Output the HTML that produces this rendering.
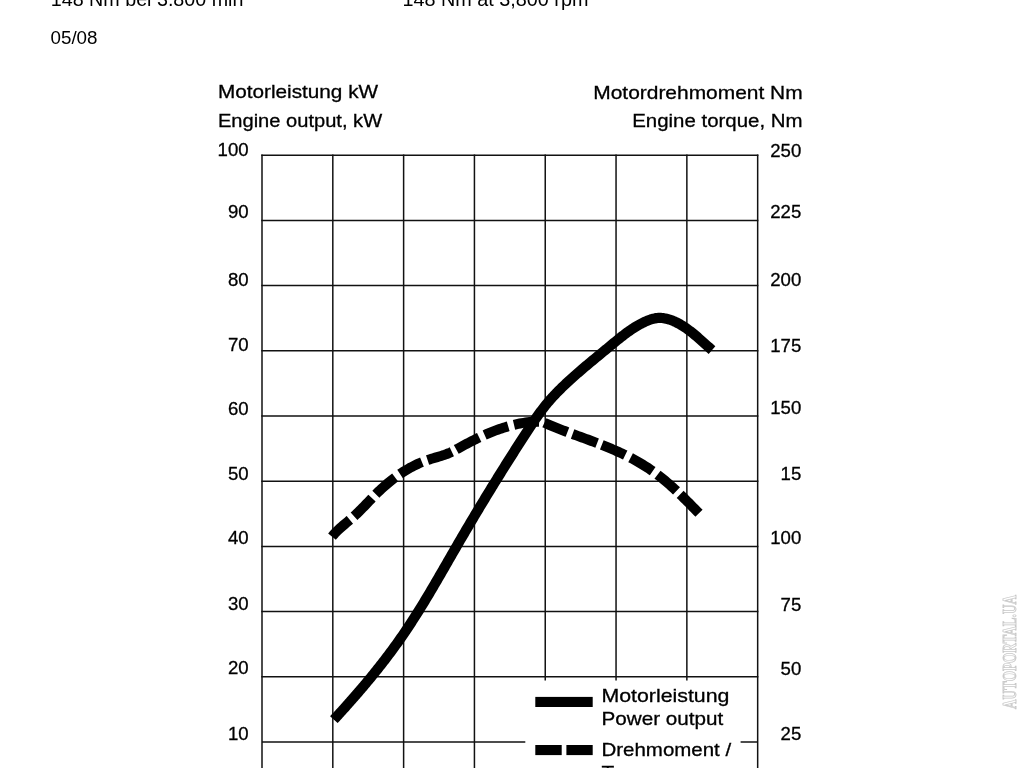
<!DOCTYPE html>
<html><head><meta charset="utf-8"><title>Engine output and torque chart</title>
<style>
html,body{margin:0;padding:0;background:#fff;}
body{width:1024px;height:768px;overflow:hidden;position:relative;}
svg{position:absolute;left:0;top:0;display:block;}
</style></head><body>
<svg width="1024" height="768" viewBox="0 0 1024 768">
<g stroke="#111" stroke-width="1.5" fill="none">
<line x1="262.00" y1="154.50" x2="262.00" y2="768"/>
<line x1="332.81" y1="154.50" x2="332.81" y2="768"/>
<line x1="403.62" y1="154.50" x2="403.62" y2="768"/>
<line x1="474.43" y1="154.50" x2="474.43" y2="768"/>
<line x1="545.24" y1="154.50" x2="545.24" y2="680.5"/>
<line x1="616.05" y1="154.50" x2="616.05" y2="680.5"/>
<line x1="686.86" y1="154.50" x2="686.86" y2="680.5"/>
<line x1="757.67" y1="154.50" x2="757.67" y2="768"/>
<line x1="261.30" y1="155.20" x2="758.37" y2="155.20"/>
<line x1="261.30" y1="220.40" x2="758.37" y2="220.40"/>
<line x1="261.30" y1="285.60" x2="758.37" y2="285.60"/>
<line x1="261.30" y1="350.80" x2="758.37" y2="350.80"/>
<line x1="261.30" y1="416.00" x2="758.37" y2="416.00"/>
<line x1="261.30" y1="481.20" x2="758.37" y2="481.20"/>
<line x1="261.30" y1="546.40" x2="758.37" y2="546.40"/>
<line x1="261.30" y1="611.60" x2="758.37" y2="611.60"/>
<line x1="261.30" y1="676.80" x2="758.37" y2="676.80"/>
<line x1="262.00" y1="742.00" x2="525.3" y2="742.00"/>
<line x1="740.6" y1="742.00" x2="757.67" y2="742.00"/>
</g>
<rect x="526" y="681" width="214" height="87" fill="#fff"/>
<path d="M333.86 719.66 L334.87 718.56 L335.89 717.45 L336.90 716.35 L337.91 715.24 L338.92 714.13 L339.93 713.03 L340.94 711.92 L341.94 710.80 L342.95 709.69 L343.95 708.58 L344.96 707.46 L345.96 706.34 L346.96 705.22 L347.96 704.10 L348.95 702.98 L349.95 701.86 L350.94 700.73 L351.93 699.61 L352.92 698.48 L353.91 697.35 L354.90 696.22 L355.88 695.08 L356.87 693.95 L357.85 692.81 L358.83 691.67 L359.81 690.53 L360.78 689.39 L361.76 688.25 L362.73 687.11 L363.70 685.96 L364.67 684.81 L365.63 683.66 L366.60 682.51 L367.56 681.35 L368.52 680.20 L369.47 679.04 L370.43 677.88 L371.38 676.72 L372.33 675.56 L373.28 674.39 L374.23 673.23 L375.17 672.06 L376.11 670.89 L377.05 669.71 L377.98 668.54 L378.92 667.36 L379.85 666.19 L380.77 665.01 L381.70 663.82 L382.62 662.64 L383.54 661.45 L384.46 660.26 L385.37 659.07 L386.28 657.88 L387.19 656.69 L388.10 655.49 L389.00 654.29 L389.90 653.09 L390.80 651.89 L391.69 650.68 L392.58 649.48 L393.47 648.27 L394.35 647.05 L395.24 645.84 L396.11 644.62 L396.99 643.41 L397.86 642.19 L398.73 640.96 L399.59 639.74 L400.45 638.51 L401.31 637.28 L402.17 636.05 L403.02 634.82 L403.87 633.58 L404.71 632.34 L405.55 631.10 L406.39 629.86 L407.22 628.61 L408.05 627.36 L408.88 626.11 L409.71 624.86 L410.53 623.61 L411.35 622.35 L412.17 621.09 L412.98 619.83 L413.79 618.57 L414.60 617.31 L415.40 616.05 L416.20 614.78 L417.01 613.51 L417.80 612.24 L418.60 610.97 L419.39 609.70 L420.18 608.42 L420.97 607.15 L421.76 605.87 L422.54 604.59 L423.32 603.31 L424.10 602.03 L424.88 600.75 L425.66 599.46 L426.43 598.18 L427.21 596.89 L427.98 595.60 L428.75 594.31 L429.51 593.03 L430.28 591.73 L431.05 590.44 L431.81 589.15 L432.57 587.86 L433.33 586.56 L434.09 585.27 L434.85 583.97 L435.61 582.68 L436.37 581.38 L437.12 580.08 L437.88 578.78 L438.63 577.49 L439.39 576.19 L440.14 574.89 L440.89 573.59 L441.64 572.29 L442.39 570.99 L443.14 569.68 L443.89 568.38 L444.64 567.08 L445.39 565.78 L446.14 564.48 L446.89 563.18 L447.64 561.87 L448.39 560.57 L449.14 559.27 L449.88 557.97 L450.63 556.66 L451.38 555.36 L452.13 554.06 L452.88 552.76 L453.63 551.46 L454.38 550.16 L455.13 548.86 L455.89 547.56 L456.64 546.26 L457.39 544.96 L458.14 543.66 L458.90 542.36 L459.65 541.06 L460.41 539.77 L461.16 538.47 L461.92 537.17 L462.68 535.88 L463.44 534.58 L464.20 533.29 L464.96 531.99 L465.72 530.70 L466.48 529.40 L467.24 528.11 L468.00 526.82 L468.77 525.53 L469.53 524.23 L470.29 522.94 L471.06 521.65 L471.82 520.36 L472.59 519.07 L473.36 517.78 L474.13 516.49 L474.90 515.20 L475.66 513.92 L476.44 512.63 L477.21 511.34 L477.98 510.05 L478.75 508.77 L479.52 507.48 L480.30 506.20 L481.07 504.91 L481.85 503.63 L482.62 502.34 L483.40 501.06 L484.18 499.78 L484.96 498.50 L485.73 497.21 L486.51 495.93 L487.29 494.65 L488.08 493.37 L488.86 492.09 L489.64 490.81 L490.42 489.53 L491.21 488.25 L491.99 486.97 L492.78 485.70 L493.56 484.42 L494.35 483.14 L495.14 481.87 L495.93 480.59 L496.72 479.32 L497.51 478.04 L498.30 476.77 L499.09 475.49 L499.88 474.22 L500.68 472.95 L501.47 471.67 L502.27 470.40 L503.06 469.13 L503.86 467.86 L504.65 466.59 L505.45 465.32 L506.25 464.05 L507.05 462.78 L507.85 461.51 L508.65 460.24 L509.45 458.97 L510.26 457.71 L511.06 456.44 L511.86 455.17 L512.67 453.91 L513.48 452.64 L514.28 451.38 L515.09 450.11 L515.90 448.85 L516.71 447.58 L517.52 446.32 L518.33 445.06 L519.14 443.80 L519.95 442.54 L520.76 441.27 L521.58 440.01 L522.39 438.75 L523.21 437.49 L524.03 436.23 L524.84 434.98 L525.66 433.72 L526.48 432.46 L527.30 431.20 L528.12 429.95 L528.94 428.69 L529.77 427.44 L530.59 426.18 L531.42 424.93 L532.26 423.68 L533.09 422.44 L533.93 421.20 L534.78 419.96 L535.63 418.72 L536.48 417.49 L537.34 416.26 L538.21 415.03 L539.08 413.82 L539.96 412.60 L540.85 411.39 L541.75 410.19 L542.65 409.00 L543.57 407.81 L544.49 406.62 L545.42 405.45 L546.37 404.28 L547.32 403.12 L548.28 401.97 L549.26 400.82 L550.25 399.69 L551.24 398.56 L552.25 397.44 L553.27 396.33 L554.30 395.23 L555.34 394.13 L556.39 393.05 L557.44 391.97 L558.50 390.89 L559.57 389.83 L560.65 388.77 L561.72 387.71 L562.81 386.67 L563.90 385.63 L564.99 384.59 L566.08 383.56 L567.18 382.54 L568.28 381.52 L569.39 380.50 L570.50 379.50 L571.60 378.49 L572.72 377.49 L573.83 376.49 L574.95 375.50 L576.07 374.51 L577.19 373.53 L578.32 372.55 L579.45 371.57 L580.58 370.60 L581.71 369.62 L582.84 368.65 L583.98 367.69 L585.12 366.72 L586.26 365.76 L587.40 364.80 L588.54 363.84 L589.69 362.88 L590.84 361.93 L591.99 360.97 L593.14 360.02 L594.29 359.06 L595.44 358.11 L596.60 357.16 L597.75 356.21 L598.91 355.26 L600.07 354.30 L601.23 353.35 L602.39 352.40 L603.55 351.44 L604.72 350.49 L605.88 349.53 L607.05 348.57 L608.21 347.61 L609.38 346.65 L610.54 345.69 L611.71 344.73 L612.88 343.76 L614.05 342.80 L615.22 341.83 L616.40 340.87 L617.58 339.91 L618.76 338.96 L619.94 338.01 L621.13 337.07 L622.33 336.13 L623.53 335.21 L624.73 334.29 L625.94 333.38 L627.16 332.49 L628.38 331.60 L629.62 330.73 L630.85 329.88 L632.10 329.04 L633.36 328.21 L634.62 327.41 L635.90 326.62 L637.18 325.85 L638.48 325.10 L639.78 324.37 L641.10 323.66 L642.43 322.98 L643.77 322.32 L645.13 321.68 L646.49 321.08 L647.87 320.50 L649.26 319.97 L650.66 319.48 L652.07 319.04 L653.49 318.67 L654.92 318.36 L656.36 318.12 L657.80 317.96 L659.25 317.89 L660.70 317.91 L662.15 318.00 L663.61 318.18 L665.06 318.42 L666.51 318.74 L667.96 319.11 L669.40 319.54 L670.82 320.03 L672.24 320.57 L673.64 321.14 L675.03 321.76 L676.40 322.41 L677.75 323.10 L679.09 323.82 L680.41 324.56 L681.71 325.34 L683.01 326.14 L684.28 326.96 L685.55 327.81 L686.80 328.68 L688.03 329.57 L689.26 330.48 L690.47 331.41 L691.67 332.35 L692.87 333.30 L694.05 334.27 L695.22 335.24 L696.38 336.23 L697.54 337.22 L698.68 338.22 L699.82 339.22 L700.96 340.23 L702.08 341.23 L703.20 342.23 L704.31 343.24 L705.42 344.23 L706.53 345.22 L707.63 346.21 L708.72 347.18 L709.82 348.15 L710.91 349.10 L712.00 350.04" fill="none" stroke="#000" stroke-width="10.2" stroke-linejoin="round"/>
<g fill="none" stroke="#000" stroke-width="10" stroke-linejoin="round">
<path d="M332.00 536.60 L333.26 535.08 L334.58 533.61 L335.94 532.17 L337.35 530.77 L338.80 529.39 L340.27 528.04 L341.77 526.70 L343.29 525.38 L344.83 524.08 L346.38 522.77 L347.92 521.48 L349.47 520.17 L349.86 519.85"/>
<path d="M354.04 516.21 L355.52 514.85 L356.99 513.48 L358.43 512.09 L359.86 510.69 L361.27 509.27 L362.67 507.85 L364.06 506.42 L365.44 504.98 L366.82 503.54 L368.20 502.10 L369.58 500.66 L370.96 499.22 L372.00 498.14"/>
<path d="M375.86 494.23 L377.28 492.82 L378.72 491.43 L380.18 490.06 L381.65 488.69 L383.13 487.34 L384.63 486.01 L386.15 484.69 L387.67 483.39 L389.22 482.11 L390.78 480.85 L392.35 479.61 L393.94 478.39 L395.14 477.49"/>
<path d="M400.04 474.01 L401.70 472.89 L403.37 471.81 L405.07 470.75 L406.78 469.71 L408.50 468.71 L410.24 467.73 L412.00 466.78 L413.77 465.87 L415.56 464.98 L417.36 464.13 L419.18 463.31 L421.02 462.52 L421.95 462.14"/>
<path d="M427.58 460.04 L429.49 459.41 L431.41 458.81 L433.35 458.23 L435.28 457.66 L437.22 457.10 L439.15 456.52 L441.08 455.93 L442.99 455.32 L444.89 454.68 L446.77 453.99 L448.63 453.26 L450.46 452.46 L451.81 451.82"/>
<path d="M456.23 449.48 L457.97 448.52 L459.73 447.56 L461.48 446.60 L463.23 445.65 L464.99 444.71 L466.75 443.78 L468.51 442.85 L470.28 441.93 L472.05 441.03 L473.83 440.13 L475.61 439.24 L477.41 438.37 L479.20 437.51"/>
<path d="M484.65 435.00 L486.49 434.20 L488.33 433.41 L490.18 432.64 L492.05 431.88 L493.92 431.15 L495.80 430.43 L497.68 429.73 L499.58 429.06 L501.48 428.41 L503.39 427.78 L505.31 427.17 L507.23 426.60 L508.20 426.32"/>
<path d="M514.01 424.78 L515.96 424.32 L517.92 423.90 L519.88 423.50 L521.84 423.14 L523.81 422.81 L525.78 422.51 L527.76 422.25 L529.74 422.02 L531.72 421.84 L533.70 421.72 L535.67 421.65 L537.64 421.66 L539.11 421.71"/>
<path d="M544.36 422.74 L546.17 423.54 L547.99 424.32 L549.81 425.10 L551.64 425.86 L553.48 426.62 L555.33 427.37 L557.18 428.11 L559.03 428.84 L560.89 429.57 L562.75 430.29 L564.62 431.00 L566.49 431.71 L567.43 432.07"/>
<path d="M572.60 433.99 L574.48 434.69 L576.37 435.39 L578.26 436.08 L580.14 436.77 L582.03 437.47 L583.92 438.16 L585.81 438.86 L587.70 439.56 L589.58 440.26 L591.47 440.96 L593.36 441.67 L595.24 442.38 L597.12 443.10"/>
<path d="M601.81 444.92 L603.67 445.66 L605.54 446.40 L607.40 447.16 L609.26 447.92 L611.11 448.69 L612.95 449.48 L614.79 450.27 L616.62 451.07 L618.45 451.89 L620.27 452.72 L622.08 453.56 L623.89 454.42 L625.23 455.07"/>
<path d="M630.58 457.76 L632.34 458.69 L634.09 459.63 L635.84 460.59 L637.57 461.57 L639.29 462.57 L641.00 463.58 L642.70 464.61 L644.39 465.66 L646.07 466.72 L647.74 467.81 L649.40 468.91 L651.04 470.03 L652.68 471.16"/>
<path d="M657.50 474.68 L659.08 475.89 L660.66 477.12 L662.22 478.37 L663.76 479.63 L665.30 480.91 L666.83 482.20 L668.34 483.51 L669.85 484.82 L671.35 486.16 L672.84 487.50 L674.32 488.86 L675.79 490.22 L676.52 490.91"/>
<path d="M680.16 494.37 L681.61 495.77 L683.04 497.18 L684.48 498.59 L685.91 500.00 L687.33 501.42 L688.75 502.85 L690.16 504.28 L691.57 505.70 L692.98 507.14 L694.39 508.57 L695.79 510.00 L697.20 511.43 L698.60 512.85 L698.95 513.21"/>
</g>
<rect x="535.3" y="696.9" width="57.4" height="10.1" fill="#000"/>
<rect x="535.3" y="745" width="26.4" height="10.1" fill="#000"/>
<rect x="566.4" y="745" width="26.3" height="10.1" fill="#000"/>
<g font-family="Liberation Sans, Arial, sans-serif" fill="#000" stroke="#000" stroke-width="0.3">
<text x="248.60" y="156.40" text-anchor="end" font-size="18.6">100</text>
<text x="248.60" y="218.00" text-anchor="end" font-size="18.6">90</text>
<text x="248.60" y="286.00" text-anchor="end" font-size="18.6">80</text>
<text x="248.60" y="351.40" text-anchor="end" font-size="18.6">70</text>
<text x="248.60" y="414.50" text-anchor="end" font-size="18.6">60</text>
<text x="248.60" y="480.10" text-anchor="end" font-size="18.6">50</text>
<text x="248.60" y="544.10" text-anchor="end" font-size="18.6">40</text>
<text x="248.60" y="610.10" text-anchor="end" font-size="18.6">30</text>
<text x="248.60" y="674.20" text-anchor="end" font-size="18.6">20</text>
<text x="248.60" y="739.80" text-anchor="end" font-size="18.6">10</text>
<text x="801.30" y="156.90" text-anchor="end" font-size="18.6">250</text>
<text x="801.30" y="218.30" text-anchor="end" font-size="18.6">225</text>
<text x="801.30" y="286.00" text-anchor="end" font-size="18.6">200</text>
<text x="801.30" y="351.50" text-anchor="end" font-size="18.6">175</text>
<text x="801.30" y="414.40" text-anchor="end" font-size="18.6">150</text>
<text x="801.30" y="480.00" text-anchor="end" font-size="18.6">15</text>
<text x="801.30" y="544.40" text-anchor="end" font-size="18.6">100</text>
<text x="801.30" y="610.60" text-anchor="end" font-size="18.6">75</text>
<text x="801.30" y="674.70" text-anchor="end" font-size="18.6">50</text>
<text x="801.30" y="740.30" text-anchor="end" font-size="18.6">25</text>
<text transform="translate(217.90 98.40) scale(1.1158 1)" font-size="18.6">Motorleistung kW</text>
<text transform="translate(217.90 127.20) scale(1.0810 1)" font-size="18.6">Engine output, kW</text>
<text transform="translate(802.60 98.60) scale(1.1255 1)" text-anchor="end" font-size="18.6">Motordrehmoment Nm</text>
<text transform="translate(802.60 126.70) scale(1.0994 1)" text-anchor="end" font-size="18.6">Engine torque, Nm</text>
<text transform="translate(601.50 702.30) scale(1.1458 1)" font-size="18.6">Motorleistung</text>
<text transform="translate(601.50 724.70) scale(1.1105 1)" font-size="18.6">Power output</text>
<text transform="translate(601.50 756.20) scale(1.1013 1)" font-size="18.6">Drehmoment /</text>
<text transform="translate(601.50 778.60) scale(1.1226 1)" font-size="18.6">Torque</text>
</g>
<g font-family="Liberation Sans, Arial, sans-serif" fill="#000">
<text x="50.80" y="6.20" font-size="19.7">148 Nm bei 3.800 min</text>
<text x="402.50" y="6.20" font-size="19.8">148 Nm at 3,800 rpm</text>
<text x="50.50" y="44.30" font-size="18.8">05/08</text>
</g>
<text transform="translate(1015.6 709) rotate(-90)" font-family="Liberation Serif, serif" font-weight="bold" font-size="18.5" fill="#fff" stroke="#c8c8c8" stroke-width="0.9" textLength="114" lengthAdjust="spacingAndGlyphs">AUTOPORTAL.UA</text>
</svg>
</body></html>
